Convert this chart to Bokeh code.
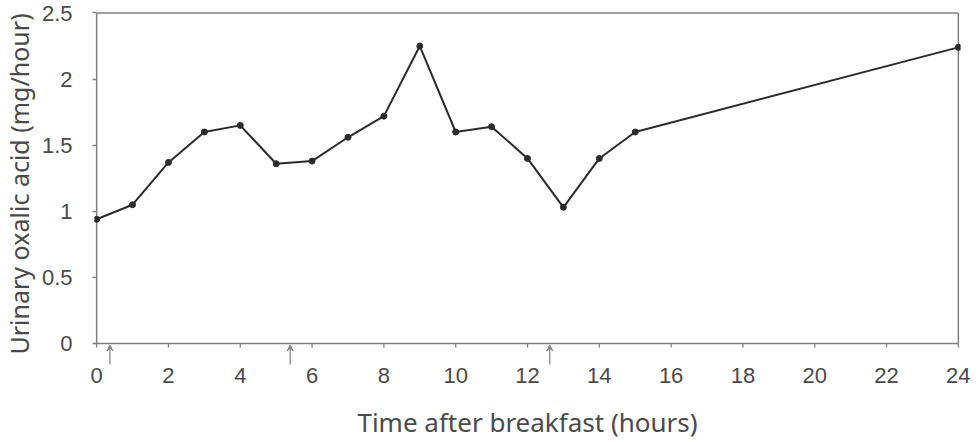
from bokeh.plotting import figure
from bokeh.models import Arrow, VeeHead, FixedTicker, ColumnDataSource, Range1d, Title
from bokeh.embed import file_html
from bokeh.resources import INLINE

hours = [0, 1, 2, 3, 4, 5, 6, 7, 8, 9, 10, 11, 12, 13, 14, 15, 24]
oxalic = [0.94, 1.05, 1.37, 1.60, 1.65, 1.36, 1.38, 1.56, 1.72, 2.25,
          1.60, 1.64, 1.40, 1.03, 1.40, 1.60, 2.24]
meal_times = [0.37, 5.39, 12.62]
x_ticks = [0, 2, 4, 6, 8, 10, 12, 14, 16, 18, 20, 22, 24]
y_ticks = [0, 0.5, 1, 1.5, 2, 2.5]
x_min, x_max = 0, 24
y_min, y_max = 0, 2.5

FONT = "Noto Sans"
TICK_FONT = "Liberation Sans"
GRAY = "#808080"
TXT = "#4a4a4a"
INK = "#2b2b2b"

# frame slightly larger than the data box so the box lines and arrows below the axis are drawn
px_x = 36.03
px_y = 132.6
p = figure(width=978, height=442, output_backend="svg", toolbar_location=None,
           x_range=Range1d(x_min - 0.06, x_max + 0.06),
           y_range=Range1d(y_min - 22 / px_y, y_max + 1.5 / px_y),
           min_border_left=91, min_border_right=18, min_border_top=11,
           min_border_bottom=76)
p.grid.visible = False
p.outline_line_color = None
p.background_fill_color = "white"

xa, ya = p.xaxis[0], p.yaxis[0]
for ax in (xa, ya):
    ax.minor_tick_line_color = None
    ax.axis_line_color = None
    ax.major_label_text_font = TICK_FONT
    ax.major_label_text_font_size = "22px"
    ax.major_label_text_color = TXT

xa.ticker = FixedTicker(ticks=x_ticks)
xa.major_tick_line_color = None
xa.major_tick_in = 0
xa.major_tick_out = 0
xa.major_label_standoff = 2
xa.axis_label = "Time after breakfast (hours)"
xa.axis_label_text_font = FONT
xa.axis_label_text_font_size = "26px"
xa.axis_label_text_color = TXT
xa.axis_label_text_font_style = "normal"
xa.axis_label_standoff = 18

ya.ticker = FixedTicker(ticks=y_ticks)
ya.major_tick_line_color = GRAY
ya.major_tick_line_width = 1.3
ya.major_tick_in = 2
ya.major_tick_out = 2
ya.major_label_standoff = 20

p.add_layout(Title(text="Urinary oxalic acid (mg/hour)", align="left", offset=11,
                   vertical_align="top", standoff=2,
                   text_font=FONT, text_font_size="25px", text_color=TXT,
                   text_font_style="normal"), "left")

# box: axes at the data limits plus top and right borders
p.segment(x0=[x_min - 0.1, x_min, x_min, x_max], y0=[y_min, y_min, y_max, y_min],
          x1=[x_max, x_min, x_max, x_max], y1=[y_min, y_max, y_max, y_max],
          line_color=GRAY, line_width=1.5)
# x ticks pointing down
p.segment(x0=x_ticks, x1=x_ticks, y0=[y_min] * len(x_ticks),
          y1=[y_min - 4 / px_y] * len(x_ticks), line_color=GRAY, line_width=1.3)

src = ColumnDataSource(data=dict(x=hours, y=oxalic))
p.line("x", "y", source=src, line_color=INK, line_width=2)
p.scatter("x", "y", source=src, size=6, fill_color=INK, line_color=INK)

for t in meal_times:
    p.add_layout(Arrow(end=VeeHead(size=6, line_color=GRAY, line_width=1, fill_color=GRAY),
                       x_start=t, y_start=y_min - 21 / px_y, x_end=t, y_end=y_min - 1.5 / px_y,
                       line_color=GRAY, line_width=1.2))

open("out.html", "w").write(file_html(p, INLINE))
